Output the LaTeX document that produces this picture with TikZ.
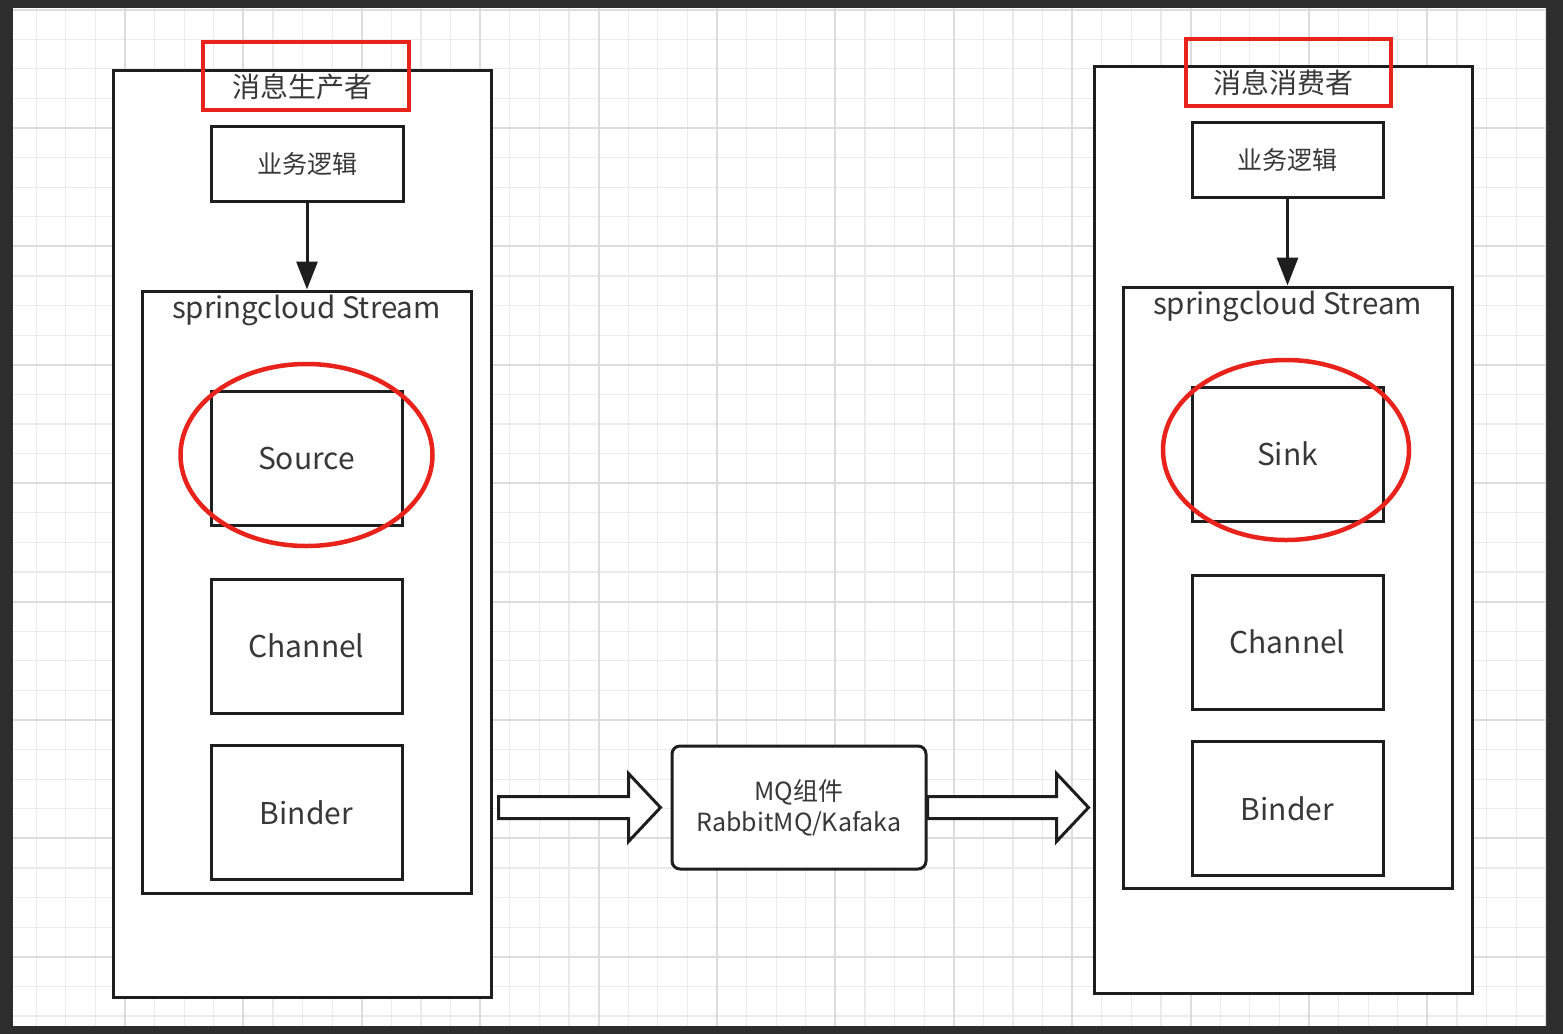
\documentclass[tikz,border=0pt]{standalone}
\usepackage{fontspec}
\newfontfamily\cjk{Noto Sans CJK SC}
\usetikzlibrary{arrows.meta,calc}
\definecolor{ink}{HTML}{1E1E1E}
\definecolor{txt}{HTML}{383838}
\definecolor{hl}{HTML}{E8231B}
\definecolor{bezel}{HTML}{2D2D2D}
\definecolor{gridlo}{HTML}{EAEAEA}
\definecolor{gridhi}{HTML}{DCDCDC}

\begin{document}
\begin{tikzpicture}[x=1pt, y=-1pt, >=Stealth,
  box/.style={draw=ink, line width=3pt, fill=white, inner sep=0pt},
  hot/.style={draw=hl, line width=4.5pt},
  lbl/.style={text=txt, inner sep=0pt, font=\cjk\fontsize{#1}{#1}\selectfont},
  flow/.style={draw=ink, line width=3pt, -{Triangle[length=28pt,width=21pt]}},
  fat/.style={draw=ink, line width=3pt, fill=white, line join=miter},
  gridln/.style={gridlo, line width=1.2pt}, gridmj/.style={gridhi, line width=2pt}]
  \useasboundingbox (0,0) rectangle (1563,1034);
  \fill[bezel] (0,0) rectangle (1563,1034);
  \fill[white] (13,8) rectangle (1546,1026);
  % canvas grid
  \begin{scope}
    \clip (13,8) rectangle (1546,1026);
    \foreach \k in {0,...,51} \draw[gridln] (36.2+29.6*\k,8) -- (36.2+29.6*\k,1026);
    \foreach \k in {0,...,34} \draw[gridln] (13,9.6+29.6*\k) -- (1546,9.6+29.6*\k);
    \foreach \k in {0,...,12} \draw[gridmj] (125+118.4*\k,8) -- (125+118.4*\k,1026);
    \foreach \k in {0,...,8} \draw[gridmj] (13,9.6+118.4*\k) -- (1546,9.6+118.4*\k);
  \end{scope}

  % producer
  \node[box, minimum width=378pt, minimum height=927pt] (prod) at (302,533.5) {};
  \node[lbl=28] (prodT) at (302,87) {消息生产者};
  \node[hot, minimum width=206pt, minimum height=68pt] (prodR) at (306,76) {};
  \node[box, lbl=25, minimum width=192pt, minimum height=75pt] (logicP) at (307,163.5) {业务逻辑};
  \node[box, minimum width=329pt, minimum height=602pt] (streamP) at (306.5,592) {};
  \node[lbl=29.5, anchor=base] (streamPT) at (306.5,318) {springcloud Stream};
  \node[box, lbl=30, minimum width=191pt, minimum height=134pt] (src) at (306.5,458) {Source};
  \node[box, lbl=30, minimum width=191pt, minimum height=134pt] (chP) at (306.5,646) {Channel};
  \node[box, lbl=30, minimum width=191pt, minimum height=134pt] (bdP) at (306.5,812.5) {Binder};
  \draw[hot] ($(src)+(0,-3)$) ellipse [x radius=126, y radius=91];
  \draw[flow] (logicP.south) -- (logicP.south |- streamP.north);

  % consumer
  \node[box, minimum width=378pt, minimum height=927pt] (cons) at (1283,529.5) {};
  \node[lbl=28] (consT) at (1283,83) {消息消费者};
  \node[hot, minimum width=205pt, minimum height=67pt] (consR) at (1288.5,72.5) {};
  \node[box, lbl=25, minimum width=191pt, minimum height=75pt] (logicC) at (1287.5,159.5) {业务逻辑};
  \node[box, minimum width=329pt, minimum height=601pt] (streamC) at (1287.5,587.5) {};
  \node[lbl=29.5, anchor=base] (streamCT) at (1287.5,314) {springcloud Stream};
  \node[box, lbl=30, minimum width=191pt, minimum height=134pt] (snk) at (1287.5,454) {Sink};
  \node[box, lbl=30, minimum width=191pt, minimum height=134pt] (chC) at (1287.5,642) {Channel};
  \node[box, lbl=30, minimum width=191pt, minimum height=134pt] (bdC) at (1287.5,808.5) {Binder};
  \draw[hot] ($(snk)+(-1.5,-4)$) ellipse [x radius=123, y radius=90];
  \draw[flow] (logicC.south) -- (logicC.south |- streamC.north);

  % broker
  \node[box, lbl=25, rounded corners=8pt, align=center, minimum width=254pt, minimum height=123pt] (mq) at (799,807.5)
    {MQ组件\\[6pt]RabbitMQ/Kafaka};
  \draw[fat] let \p1=($(prod.east |- mq)+(6,0)$), \p2=($(mq.west)+(-10,0)$) in
    (\x1,\y1+11) -- (\x2-32,\y1+11) -- (\x2-32,\y1+34) -- (\x2,\y1)
    -- (\x2-32,\y1-34) -- (\x2-32,\y1-11) -- (\x1,\y1-11) -- cycle;
  \draw[fat] let \p1=(mq.east), \p2=($(cons.west |- mq)+(-4,0)$) in
    (\x1,\y1+11) -- (\x2-32,\y1+11) -- (\x2-32,\y1+34) -- (\x2,\y1)
    -- (\x2-32,\y1-34) -- (\x2-32,\y1-11) -- (\x1,\y1-11) -- cycle;
\end{tikzpicture}
\end{document}
